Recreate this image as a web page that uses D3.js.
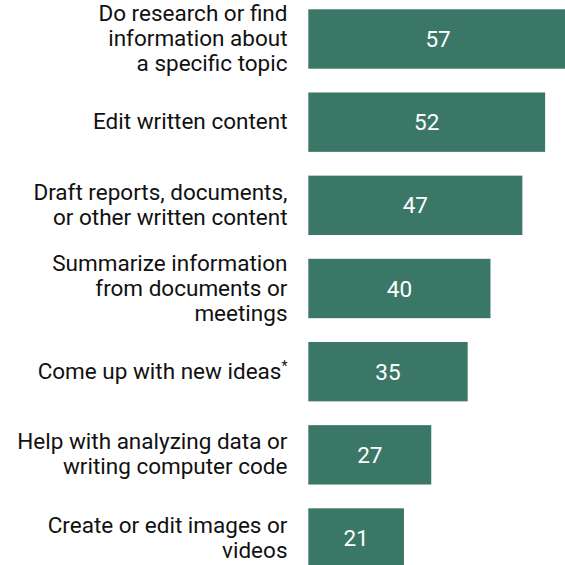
<!DOCTYPE html>
<html>
<head>
<meta charset="utf-8">
<script src="https://cdn.jsdelivr.net/npm/d3@7"></script>
<style>
  html, body { margin: 0; padding: 0; background: #fff; }
  svg { display: block; }
  text { font-family: Roboto, "Noto Sans", sans-serif; }
</style>
</head>
<body>
<svg id="chart" width="565" height="565"></svg>
<script>
// Task categories, each label split into its display lines
const categories = [
  ["Do research or find", "information about", "a specific topic"],
  ["Edit written content"],
  ["Draft reports, documents,", "or other written content"],
  ["Summarize information", "from documents or", "meetings"],
  ["Come up with new ideas"],
  ["Help with analyzing data or", "writing computer code"],
  ["Create or edit images or", "videos"]
];
const values = [57, 52, 47, 40, 35, 27, 21];
// Footnote marker shown after a label (index -> marker)
const footnotes = { 4: "*" };

const svg = d3.select("#chart");

const x0 = 308.3;
const x = d3.scaleLinear().domain([0, 57]).range([x0, x0 + 259.6]);
const y = d3.scaleBand()
  .domain(d3.range(values.length))
  .range([9.3, 567.7])
  .paddingInner(0.286)
  .paddingOuter(0);

const barColor = "#3b7767";

const g = svg.append("g");

g.selectAll("rect.bar")
  .data(values)
  .join("rect")
  .attr("class", "bar")
  .attr("x", x(0))
  .attr("y", (d, i) => y(i))
  .attr("width", d => x(d) - x(0))
  .attr("height", y.bandwidth())
  .attr("fill", barColor);

// Value labels, centered inside each bar
g.selectAll("text.value")
  .data(values)
  .join("text")
  .attr("class", "value")
  .attr("x", d => (x(0) + x(d)) / 2)
  .attr("y", (d, i) => y(i) + y.bandwidth() / 2 + 8)
  .attr("text-anchor", "middle")
  .attr("fill", "#fff")
  .attr("font-size", 22.5)
  .text(d => d);

// Category labels, right-aligned left of the bars
const lineH = 25;
const labels = g.selectAll("text.cat")
  .data(categories)
  .join("text")
  .attr("class", "cat")
  .attr("text-anchor", "end")
  .attr("fill", "#111")
  .attr("font-size", 22.5);

labels.each(function(lines, i) {
  const t = d3.select(this);
  const cy = y(i) + y.bandwidth() / 2;
  const top = cy - (lines.length - 1) * lineH / 2;
  lines.forEach((ln, k) => {
    t.append("tspan")
      .attr("x", 287.5)
      .attr("y", top + k * lineH + 7)
      .text(ln);
    if (k === lines.length - 1 && footnotes[i]) {
      t.append("tspan")
        .attr("font-size", 14)
        .attr("dy", -8)
        .text(footnotes[i]);
    }
  });
});
</script>
</body>
</html>
